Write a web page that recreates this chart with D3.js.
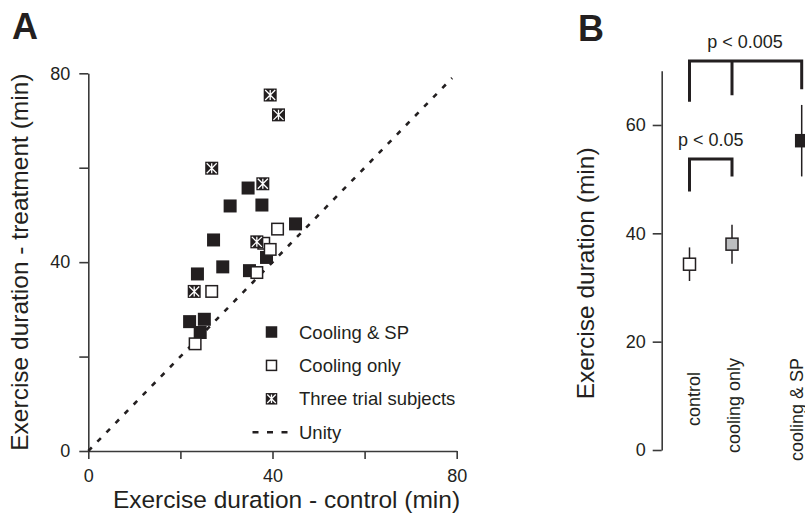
<!DOCTYPE html>
<html>
<head>
<meta charset="utf-8">
<script src="https://cdn.jsdelivr.net/npm/d3@7"></script>
<style>
  body { margin: 0; background: #fff; }
  svg text { font-family: "Liberation Sans", Arial, sans-serif; fill: #231f20; }
</style>
</head>
<body>
<svg id="chart" width="805" height="518"></svg>
<script>
"use strict";

// /////// DATA

// Panel A - [control, treatment] exercise duration (min)
const coolingSP = [
  [34.7, 55.7], [30.8, 51.9], [37.7, 52.1], [45.0, 48.1],
  [27.2, 44.7], [38.7, 41.0], [29.2, 39.0], [35.0, 38.2],
  [23.7, 37.5], [22.0, 27.4], [25.2, 27.9], [24.3, 25.1],
];
const coolingOnly = [
  [41.1, 47.0], [38.1, 44.0], [39.5, 42.7], [36.6, 37.8],
  [26.8, 33.8], [23.2, 22.7],
];
const threeTrial = [
  [39.5, 75.4], [41.3, 71.2], [26.8, 59.9], [37.9, 56.6],
  [36.6, 44.3], [23.0, 33.8],
];
const unityLine = [0, 79];
const ticksA = [0, 20, 40, 60, 80];
const tickLabelsA = [0, 40, 80];
const legendLabels = ["Cooling & SP", "Cooling only", "Three trial subjects", "Unity"];

// Panel B - mean +/- error (min)
const groups = ["control", "cooling only", "cooling & SP"];
const groupMeans = [34.3, 38.0, 57.1];
const groupErrors = [3.1, 3.6, 6.6];
const ticksB = [0, 20, 40, 60];
// significance brackets: top value, leg ends (in min), label
const bracketLabels = ["p < 0.005", "p < 0.05"];
const bracketTops = [71.8, 53.7];
const bracketLegs = [[64.3, 65.5, 66.6], [47.7, 50.5]];

// /////// LAYOUT

const ink = "#231f20";
const axisInk = "#3a3a3a";
const fillB = ["#fff", "#bcbec0", ink];
const groupX = [689.5, 732, 801.7];
const labelBaseX = [700, 740, 803];
const labelTopY = [372, 358, 358];

const svg = d3.select("#chart");
svg.append("rect").attr("width", 805).attr("height", 518).attr("fill", "#fff");

function styleAxis(g) {
  g.select(".domain").attr("stroke", axisInk).attr("stroke-width", 1.6);
  g.selectAll(".tick line").attr("stroke", axisInk).attr("stroke-width", 1.6);
  g.selectAll(".tick text")
    .attr("font-size", 18)
    .attr("font-family", "Liberation Sans, Arial, sans-serif")
    .attr("fill", ink);
}

// /////// PANEL A

const xA = d3.scaleLinear().domain([0, 80]).range([88.3, 456.7]);
const yA = d3.scaleLinear().domain([0, 80]).range([451, 73.3]);
const fmtA = (d) => (tickLabelsA.includes(d) ? d : "");

const gA = svg.append("g");

gA.append("g")
  .attr("transform", `translate(0, ${yA(0)})`)
  .call(d3.axisBottom(xA).tickValues(ticksA).tickFormat(fmtA).tickSize(8).tickSizeOuter(0).tickPadding(10))
  .call(styleAxis);

gA.append("g")
  .attr("transform", `translate(${xA(0)}, 0)`)
  .call(d3.axisLeft(yA).tickValues(ticksA).tickFormat(fmtA).tickSize(9).tickSizeOuter(0).tickPadding(9))
  .call(styleAxis);

// Unity line
gA.append("line")
  .attr("x1", xA(unityLine[0]))
  .attr("y1", yA(unityLine[0]))
  .attr("x2", xA(unityLine[1]))
  .attr("y2", yA(unityLine[1]))
  .attr("stroke", ink)
  .attr("stroke-width", 2.6)
  .attr("stroke-dasharray", "5,8");

const size = 13;

function filledSquare(sel, s) {
  sel.append("rect")
    .attr("x", -s / 2).attr("y", -s / 2)
    .attr("width", s).attr("height", s)
    .attr("fill", ink);
}

function openSquare(sel, s) {
  sel.append("rect")
    .attr("x", -s / 2 + 0.75).attr("y", -s / 2 + 0.75)
    .attr("width", s - 1.5).attr("height", s - 1.5)
    .attr("fill", "#fff")
    .attr("stroke", ink)
    .attr("stroke-width", 1.5);
}

function crossSquare(sel, s) {
  filledSquare(sel, s);
  const h = s / 2 - 1.5;
  const path = `M${-h},${-h}L${h},${h}M${h},${-h}L${-h},${h}M0,${-h}L0,${h}`;
  sel.append("path")
    .attr("d", path)
    .attr("stroke", "#fff")
    .attr("stroke-width", 1.3)
    .attr("fill", "none");
}

function plotMarkers(data, draw) {
  gA.append("g")
    .selectAll("g")
    .data(data)
    .join("g")
    .attr("transform", (d) => `translate(${xA(d[0])}, ${yA(d[1])})`)
    .each(function () {
      draw(d3.select(this), size);
    });
}

plotMarkers(coolingSP, filledSquare);
plotMarkers(coolingOnly, openSquare);
plotMarkers(threeTrial, crossSquare);

// Legend
const legend = gA.append("g").attr("transform", "translate(271.5, 332)");
const legendDraw = [filledSquare, openSquare, crossSquare, null];

legend.selectAll("g")
  .data(legendLabels)
  .join("g")
  .attr("transform", (d, i) => `translate(0, ${i * 33.4})`)
  .each(function (d, i) {
    const row = d3.select(this);
    if (legendDraw[i]) {
      legendDraw[i](row, 11.5);
    } else {
      row.append("line")
        .attr("x1", -19).attr("x2", 16)
        .attr("stroke", ink)
        .attr("stroke-width", 2.6)
        .attr("stroke-dasharray", "6,8.5");
    }
    row.append("text")
      .attr("x", 27.5)
      .attr("y", 6.5)
      .attr("font-size", 18.5)
      .text(d);
  });

// Axis titles
gA.append("text")
  .attr("x", 286.5)
  .attr("y", 508)
  .attr("text-anchor", "middle")
  .attr("font-size", 24.5)
  .text("Exercise duration - control (min)");

gA.append("text")
  .attr("transform", `translate(28, ${(yA(0) + yA(80)) / 2}) rotate(-90)`)
  .attr("text-anchor", "middle")
  .attr("font-size", 24.5)
  .text("Exercise duration - treatment (min)");

svg.append("text")
  .attr("x", 12)
  .attr("y", 39)
  .attr("font-size", 36)
  .attr("font-weight", "bold")
  .text("A");

// /////// PANEL B

const yB = d3.scaleLinear().domain([0, 70]).range([450, 450 - 70 * 5.417]);
const xB = d3.scaleOrdinal().domain(groups).range(groupX);

const gB = svg.append("g");

gB.append("g")
  .attr("transform", "translate(661.7, 0)")
  .call(d3.axisLeft(yB).tickValues(ticksB).tickSize(9).tickSizeOuter(0).tickPadding(7))
  .call(styleAxis);

// Error bars
gB.append("g")
  .selectAll("line")
  .data(groups)
  .join("line")
  .attr("x1", (d) => xB(d))
  .attr("x2", (d) => xB(d))
  .attr("y1", (d, i) => yB(groupMeans[i] - groupErrors[i]))
  .attr("y2", (d, i) => yB(groupMeans[i] + groupErrors[i]))
  .attr("stroke", ink)
  .attr("stroke-width", 1.5);

// Means
gB.append("g")
  .selectAll("rect")
  .data(groups)
  .join("rect")
  .attr("x", (d) => xB(d) - 6)
  .attr("y", (d, i) => yB(groupMeans[i]) - 6)
  .attr("width", 12)
  .attr("height", 12)
  .attr("fill", (d, i) => fillB[i])
  .attr("stroke", ink)
  .attr("stroke-width", 1.5);

// Group labels
gB.append("g")
  .selectAll("text")
  .data(groups)
  .join("text")
  .attr("transform", (d, i) => `translate(${labelBaseX[i]}, ${labelTopY[i]}) rotate(-90)`)
  .attr("text-anchor", "end")
  .attr("font-size", 18)
  .text((d) => d);

// Significance brackets
const bracketGroups = [groups, groups.slice(0, 2)];

bracketLabels.forEach((label, b) => {
  const cols = bracketGroups[b];
  const top = yB(bracketTops[b]);
  let path = `M${xB(cols[0])},${yB(bracketLegs[b][0])}V${top}H${xB(cols[cols.length - 1])}V${yB(bracketLegs[b][cols.length - 1])}`;
  if (cols.length === 3) path += `M${xB(cols[1])},${top}V${yB(bracketLegs[b][1])}`;

  gB.append("path")
    .attr("d", path)
    .attr("fill", "none")
    .attr("stroke", ink)
    .attr("stroke-width", 3);

  const cx = cols.length === 3 ? 745 : (xB(cols[0]) + xB(cols[1])) / 2;
  gB.append("text")
    .attr("x", cx)
    .attr("y", top - 13)
    .attr("text-anchor", "middle")
    .attr("font-size", 18)
    .text(label);
});

gB.append("text")
  .attr("transform", `translate(594, ${(yB(0) + yB(70)) / 2 + 13}) rotate(-90)`)
  .attr("text-anchor", "middle")
  .attr("font-size", 24.5)
  .text("Exercise duration (min)");

svg.append("text")
  .attr("x", 578)
  .attr("y", 41)
  .attr("font-size", 36)
  .attr("font-weight", "bold")
  .text("B");
</script>
</body>
</html>
